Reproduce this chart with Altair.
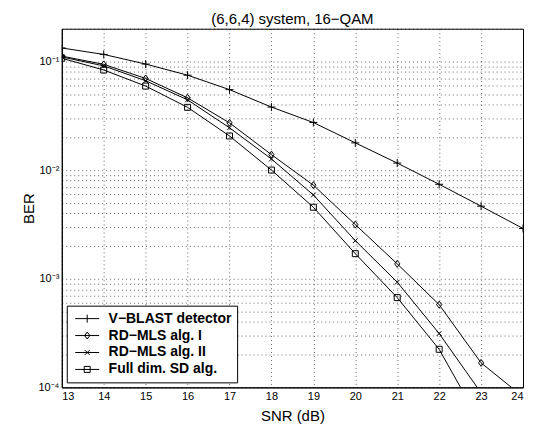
import altair as alt
import pandas as pd

FONT = "Liberation Sans"

series_names = ["V−BLAST detector", "RD−MLS alg. I", "RD−MLS alg. II", "Full dim. SD alg."]

snr_vblast = [13, 14, 15, 16, 17, 18, 19, 20, 21, 22, 23, 24]
ber_vblast = [0.133, 0.116, 0.0946, 0.0747, 0.055, 0.038, 0.0274, 0.0178, 0.0116, 0.0074, 0.00465, 0.0029]

snr_rd1 = [13, 14, 15, 16, 17, 18, 19, 20, 21, 22, 23, 24]
ber_rd1 = [0.112, 0.094, 0.0697, 0.0462, 0.0272, 0.01387, 0.00726, 0.00315, 0.00137, 0.000577, 0.000168, 0.000082]

snr_rd2 = [13, 14, 15, 16, 17, 18, 19, 20, 21, 22, 23]
ber_rd2 = [0.110, 0.091, 0.0664, 0.0443, 0.0245, 0.01265, 0.0059, 0.00224, 0.00093, 0.000313, 0.000089]

snr_sd = [13, 14, 15, 16, 17, 18, 19, 20, 21, 22, 23]
ber_sd = [0.107, 0.0834, 0.0593, 0.0378, 0.0206, 0.0100, 0.00455, 0.0017, 0.00067, 0.000224, 0.000046]

x_ticks = [13, 14, 15, 16, 17, 18, 19, 20, 21, 22, 23, 24]
y_ticks = [m * 10.0 ** k for k in (-4, -3, -2) for m in range(1, 10)] + [0.1, 0.2]
y_label_expr = ("datum.value == 0.1 ? '10⁻¹' : datum.value == 0.01 ? '10⁻²' : "
                "datum.value == 0.001 ? '10⁻³' : datum.value == 0.0001 ? '10⁻⁴' : ''")

marker_paths = [
    "M-1,0L1,0M0,-1L0,1",
    "M0,-0.875L0.65,0L0,0.875L-0.65,0Z",
    "M-0.6,-0.6L0.6,0.6M-0.6,0.6L0.6,-0.6",
    "M-0.75,-0.75L0.75,-0.75L0.75,0.75L-0.75,0.75Z",
]
legend_paths = [
    "M-1,0L1,0M0,-0.333L0,0.333",
    "M-1,0L1,0M0,-0.29L0.22,0L0,0.29L-0.22,0Z",
    "M-1,0L1,0M-0.2,-0.2L0.2,0.2M-0.2,0.2L0.2,-0.2",
    "M-1,0L1,0M-0.25,-0.25L0.25,-0.25L0.25,0.25L-0.25,0.25Z",
]

rows = []
for name, xs, ys in [
    (series_names[0], snr_vblast, ber_vblast),
    (series_names[1], snr_rd1, ber_rd1),
    (series_names[2], snr_rd2, ber_rd2),
    (series_names[3], snr_sd, ber_sd),
]:
    for s, b in zip(xs, ys):
        rows.append({"series": name, "snr": s, "ber": b})
df = pd.DataFrame(rows)

x_enc = alt.X(
    "snr:Q",
    scale=alt.Scale(domain=[13, 24], nice=False, zero=False),
    axis=alt.Axis(values=x_ticks, title="SNR (dB)", format="d", titlePadding=7),
)
y_enc = alt.Y(
    "ber:Q",
    scale=alt.Scale(type="log", domain=[0.0001, 0.2], nice=False),
    axis=alt.Axis(values=y_ticks, labelExpr=y_label_expr, title="BER", titlePadding=1),
)

base = alt.Chart(df)

lines = base.mark_line(color="black", strokeWidth=1, clip=True).encode(
    x=x_enc, y=y_enc, detail="series:N"
)

points = base.mark_point(filled=False, color="black", strokeWidth=1, size=64, opacity=1, clip=True).encode(
    x=x_enc,
    y=y_enc,
    shape=alt.Shape("series:N", scale=alt.Scale(domain=series_names, range=marker_paths), legend=None),
)

legend_layer = base.transform_filter("false").mark_point(
    filled=False, color="black", strokeWidth=1, opacity=1
).encode(
    x=x_enc,
    y=y_enc,
    shape=alt.Shape(
        "series:N",
        scale=alt.Scale(domain=series_names, range=legend_paths),
        sort=series_names,
        legend=alt.Legend(
            title=None,
            orient="bottom-left",
            offset=5,
            padding=5,
            symbolSize=576,
            symbolOffset=3,
            symbolStrokeColor="black",
            symbolStrokeWidth=1,
            symbolFillColor="transparent",
            clipHeight=16,
            rowPadding=1,
            labelOffset=9,
            labelFont=FONT,
            labelFontSize=14,
            labelFontWeight="bold",
            labelColor="black",
            strokeColor="black",
            fillColor="white",
        ),
    ),
)

chart = (
    alt.layer(lines, points, legend_layer)
    .resolve_scale(shape="independent")
    .properties(
        width=463,
        height=360,
        autosize=alt.AutoSizeParams(type="none"),
        padding={"left": 54, "top": 20, "right": 6, "bottom": 42},
        title=alt.TitleParams(
            "(6,6,4) system, 16−QAM",
            font=FONT,
            fontSize=15,
            fontWeight="normal",
            color="black",
            offset=2,
        ),
    )
    .configure_view(stroke="black", strokeWidth=1)
    .configure_axis(
        labelFont=FONT,
        labelFontSize=11,
        labelColor="black",
        labelPadding=3,
        titleFont=FONT,
        titleFontSize=15,
        titleFontWeight="normal",
        titleColor="black",
        ticks=False,
        domainColor="black",
        grid=True,
        gridColor="#000000",
        gridOpacity=0.6,
        gridDash=[1, 3],
        gridWidth=1,
    )
)

chart.save("out.html", embed_options={"renderer": "svg", "actions": False})
